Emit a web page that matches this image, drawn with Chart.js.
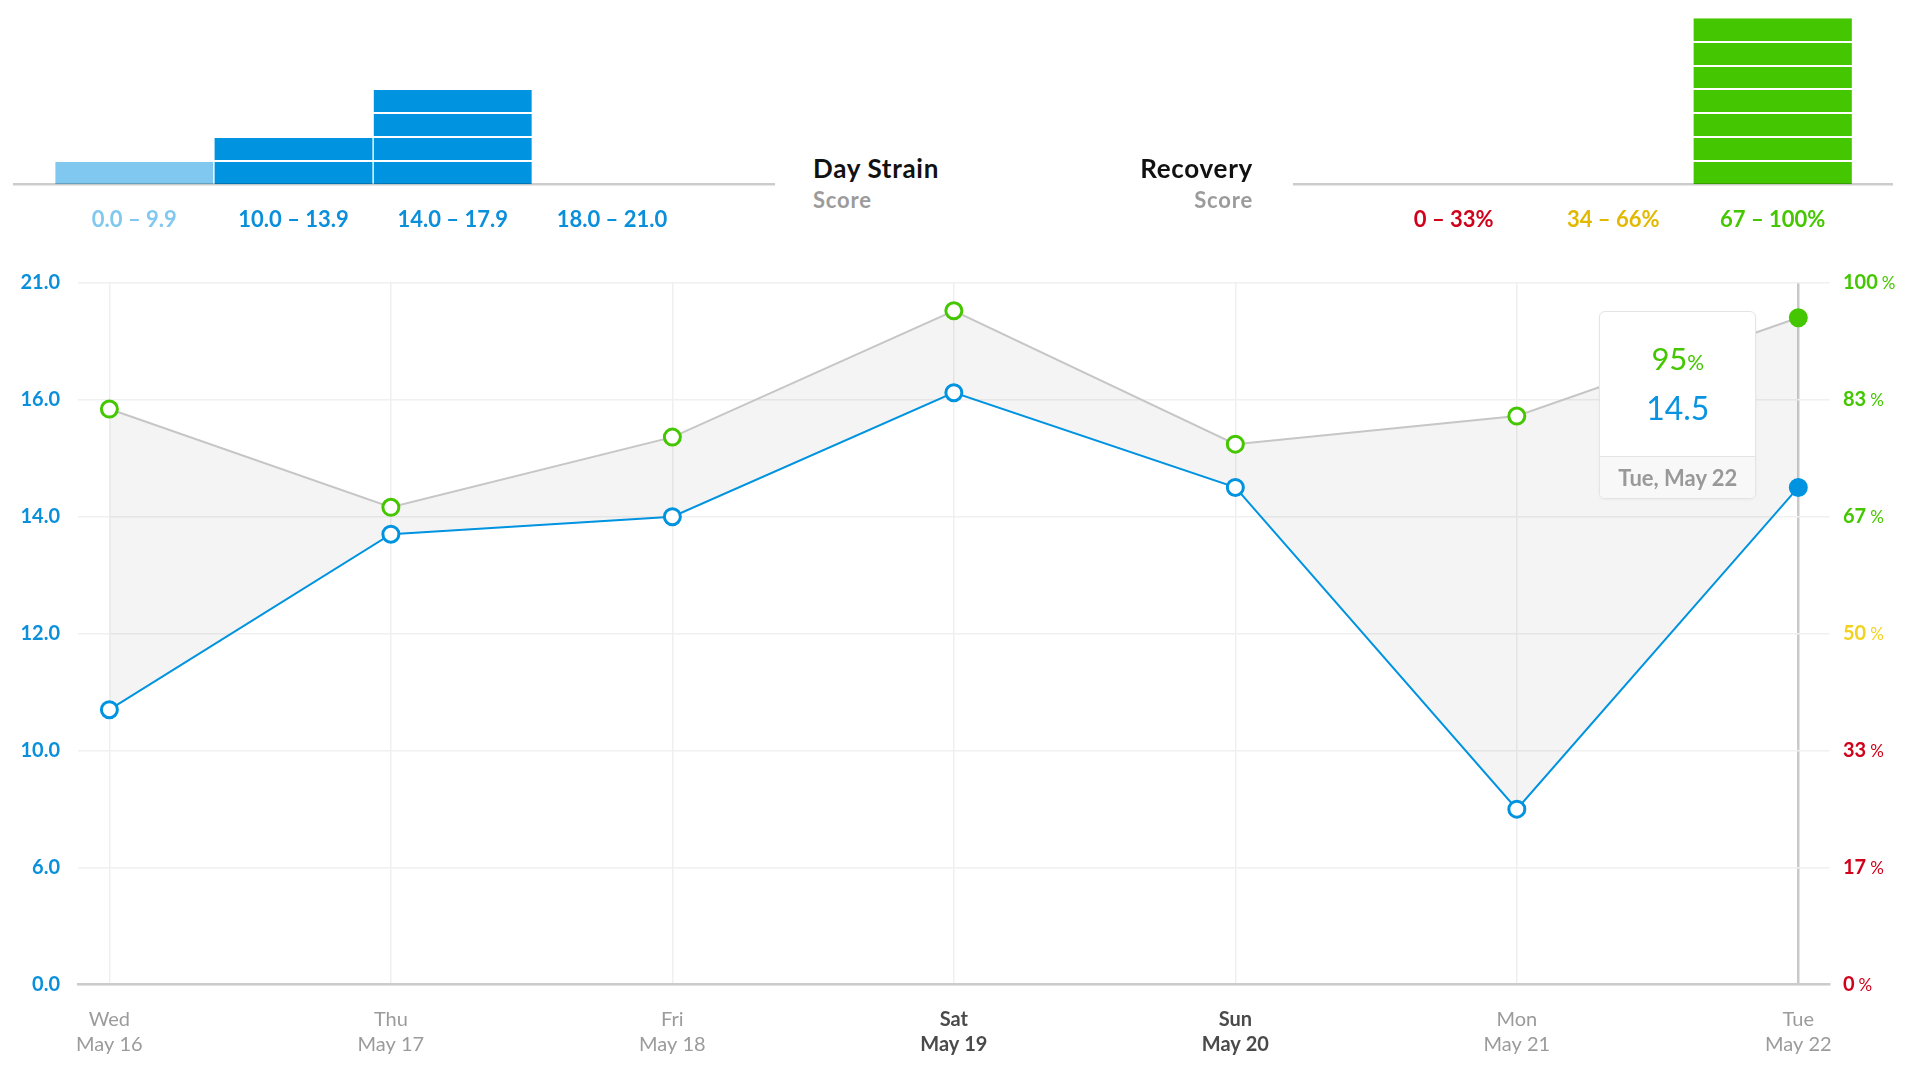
<!DOCTYPE html>
<html>
<head>
<meta charset="utf-8">
<script src="https://cdn.jsdelivr.net/npm/chart.js@4.4.1/dist/chart.umd.min.js"></script>
<style>
  html, body { margin: 0; padding: 0; background: #fff; }
  body { width: 1906px; height: 1086px; position: relative; overflow: hidden; font-family: Lato, "Noto Sans", sans-serif; }
  canvas { position: absolute; }
  .title { position: absolute; font-size: 26px; font-weight: 700; color: #111; line-height: 1; white-space: nowrap; letter-spacing: 0.7px; }
  .sub { position: absolute; font-size: 22px; font-weight: 700; color: #9b9b9b; line-height: 1; white-space: nowrap; letter-spacing: 0.8px; }
  #tip { position: absolute; width: 155px; height: 186px; border: 1.5px solid #e4e4e4; border-radius: 6px; background: #fff; overflow: hidden; box-shadow: 0 1px 3px rgba(0,0,0,0.04); }
  #tipRec { position: absolute; left: 0; right: 0; top: 31px; text-align: center; color: #44c700; font-size: 31px; line-height: 1; }
  #tipRec span { font-size: 21px; }
  #tipStr { position: absolute; left: 0; right: 0; top: 80px; text-align: center; color: #0a93e0; font-size: 32px; line-height: 1; }
  #tipDate { position: absolute; left: 0; right: 0; bottom: 0; height: 41px; border-top: 1.5px solid #e4e4e4; background: #f8f8f8; text-align: center; line-height: 41px; color: #999; font-size: 22px; font-weight: 700; }
</style>
</head>
<body>
<canvas id="strainHist" width="800" height="250" style="left:0;top:0;width:800px;height:250px"></canvas>
<canvas id="recHist" width="806" height="250" style="left:1100px;top:0;width:806px;height:250px"></canvas>
<div class="title" style="left:813px;top:155px;">Day Strain</div>
<div class="sub" style="left:813px;top:189px;">Score</div>
<div class="title" style="right:653px;top:155px;">Recovery</div>
<div class="sub" style="right:653px;top:189px;">Score</div>
<canvas id="main" width="1906" height="846" style="left:0;top:240px;width:1906px;height:846px"></canvas>
<div id="tip"><div id="tipRec"></div><div id="tipStr"></div><div id="tipDate"></div></div>
<script>
// ---------- data ----------
const dayNames = ['Wed', 'Thu', 'Fri', 'Sat', 'Sun', 'Mon', 'Tue'];
const dayDates = ['May 16', 'May 17', 'May 18', 'May 19', 'May 20', 'May 21', 'May 22'];
const strain = [10.7, 13.7, 14.0, 16.3, 14.5, 8.0, 14.5];
const recovery = [82, 68, 78, 96, 77, 81, 95];
const activeIndex = 6;

const strainTicks = [0, 6, 10, 12, 14, 16, 21];
const recoveryTickLabels = ['0', '17', '33', '50', '67', '83', '100'];
const recoveryTickColors = ['#d0021b', '#d0021b', '#d0021b', '#f2d21c', '#44c700', '#44c700', '#44c700'];

const strainBinLabels = ['0.0 \u2013 9.9', '10.0 \u2013 13.9', '14.0 \u2013 17.9', '18.0 \u2013 21.0'];
const strainBinCounts = [1, 2, 4, 0];
const strainBinColors = ['#80c8f0', '#0093e0', '#0093e0', '#0093e0'];
const strainBinLabelColors = ['#80c8f0', '#0a8fdb', '#0a8fdb', '#0a8fdb'];

const recBinLabels = ['0 \u2013 33%', '34 \u2013 66%', '67 \u2013 100%'];
const recBinCounts = [0, 0, 7];
const recBinBarColors = ['#d0021b', '#e2b900', '#44c700'];
const recBinLabelColors = ['#d0021b', '#e2b900', '#44c700'];

// ---------- style ----------
const FONT = 'Lato, "Noto Sans", sans-serif';
const BLUE = '#0093e0';
const GREEN = '#44c700';

// ---------- piecewise scale (equally spaced uneven ticks) ----------
class PiecewiseScale extends Chart.LinearScale {
  buildTicks() { return strainTicks.map(v => ({ value: v })); }
  getPixelForValue(value) {
    if (value === null || value === undefined || isNaN(value)) return NaN;
    const b = strainTicks, n = b.length - 1;
    let i = 0;
    while (i < n - 1 && value > b[i + 1]) i++;
    return this.getPixelForDecimal((i + (value - b[i]) / (b[i + 1] - b[i])) / n);
  }
  getValueForPixel(pixel) {
    const b = strainTicks, n = b.length - 1;
    const d = this.getDecimalForPixel(pixel) * n;
    const i = Math.min(n - 1, Math.max(0, Math.floor(d)));
    return b[i] + (d - i) * (b[i + 1] - b[i]);
  }
}
PiecewiseScale.id = 'piecewise';
PiecewiseScale.defaults = Chart.LinearScale.defaults;
Chart.register(PiecewiseScale);

// ---------- histograms ----------
function histogram(canvasId, labels, counts, colors, labelColors, xMin, xMax, padLeft, padRight) {
  return new Chart(document.getElementById(canvasId), {
    type: 'bar',
    data: {
      datasets: [{
        data: counts.map((c, i) => ({ x: i, y: c })),
        backgroundColor: colors,
        borderColor: '#ffffff',
        borderWidth: { left: 1, right: 1, top: 0, bottom: 0 },
        barPercentage: 1,
        categoryPercentage: 1
      }]
    },
    options: {
      responsive: false, animation: false, events: [],
      layout: { padding: { left: padLeft, right: padRight, top: 18.3, bottom: 0 } },
      plugins: { legend: { display: false }, tooltip: { enabled: false } },
      scales: {
        x: {
          type: 'linear', min: xMin, max: xMax, offset: false,
          afterBuildTicks: s => { s.ticks = labels.map((_, i) => ({ value: i })); },
          afterFit: s => { s.height = 250 - 184.3; },
          grid: { display: false, offset: false },
          border: { display: true, color: 'rgba(0,0,0,0.2)', width: 2.5, z: 2 },
          ticks: {
            autoSkip: false, maxRotation: 0, padding: 14,
            callback: (v, i) => labels[i],
            color: ctx => labelColors[ctx.index],
            font: { family: FONT, size: 22, weight: '700' }
          }
        },
        y: {
          min: 0, max: 7,
          afterBuildTicks: s => { s.ticks = [1, 2, 3, 4, 5, 6].map(v => ({ value: v })); },
          afterFit: s => { s.width = 0; },
          ticks: { display: false },
          border: { display: false },
          grid: { color: '#ffffff', lineWidth: 2, z: 1, drawTicks: false }
        }
      }
    }
  });
}
histogram('strainHist', strainBinLabels, strainBinCounts, strainBinColors, strainBinLabelColors, -0.752, 4.018, 14.6, 26);
histogram('recHist', recBinLabels, recBinCounts, recBinBarColors, recBinLabelColors, -0.997, 2.752, 194.6, 13.3);

// ---------- main chart ----------
const rightLabels = {
  id: 'rightLabels',
  afterDraw(chart) {
    const s = chart.scales.yRec, ctx = chart.ctx;
    s.ticks.forEach((t, i) => {
      const y = s.getPixelForValue(t.value);
      const x = s.left + 13.5;
      ctx.save();
      ctx.textBaseline = 'middle';
      ctx.textAlign = 'left';
      ctx.fillStyle = recoveryTickColors[i];
      ctx.font = '700 20px ' + FONT;
      ctx.fillText(recoveryTickLabels[i], x, y);
      const w = ctx.measureText(recoveryTickLabels[i]).width;
      ctx.font = '400 17px ' + FONT;
      ctx.fillText('%', x + w + 4, y + 1);
      ctx.restore();
    });
  }
};

const isWeekend = i => dayNames[i] === 'Sat' || dayNames[i] === 'Sun';

const mainChart = new Chart(document.getElementById('main'), {
  type: 'line',
  data: {
    datasets: [
      {
        label: 'Recovery',
        yAxisID: 'yRec',
        data: recovery.map((v, i) => ({ x: i, y: v })),
        borderColor: '#c6c6c6',
        borderWidth: 2,
        pointRadius: 8,
        pointBorderWidth: 3,
        pointBorderColor: GREEN,
        pointBackgroundColor: ctx => ctx.dataIndex === activeIndex ? GREEN : '#ffffff',
        tension: 0,
        fill: false
      },
      {
        label: 'Day Strain',
        yAxisID: 'y',
        data: strain.map((v, i) => ({ x: i, y: v })),
        borderColor: BLUE,
        borderWidth: 2,
        pointRadius: 8,
        pointBorderWidth: 3,
        pointBorderColor: BLUE,
        pointBackgroundColor: ctx => ctx.dataIndex === activeIndex ? BLUE : '#ffffff',
        tension: 0,
        fill: '-1',
        backgroundColor: 'rgba(0,0,0,0.045)'
      }
    ]
  },
  options: {
    responsive: false, animation: false, events: [],
    layout: { padding: { top: 42.7, left: 0, right: 0, bottom: 0 } },
    plugins: { legend: { display: false }, tooltip: { enabled: false } },
    scales: {
      x: {
        type: 'linear', position: 'bottom', min: -0.1115, max: 6.1108,
        afterBuildTicks: s => { s.ticks = dayNames.map((_, i) => ({ value: i })); },
        afterFit: s => { s.height = 846 - 744.6; },
        grid: {
          drawTicks: false,
          color: ctx => ctx.index === activeIndex ? '#c9c9c9' : '#efefef',
          lineWidth: ctx => ctx.index === activeIndex ? 2.5 : 1.5
        },
        border: { display: true, color: '#cccccc', width: 2.5 },
        ticks: {
          autoSkip: false, maxRotation: 0, padding: 22,
          callback: (v, i) => [dayNames[i], dayDates[i]],
          color: ctx => isWeekend(ctx.index) ? '#4a4a4a' : '#9b9b9b',
          font: ctx => ({ family: FONT, size: 20, weight: isWeekend(ctx.index) ? '700' : '400', lineHeight: 1.25 })
        }
      },
      y: {
        type: 'piecewise', position: 'left', min: 0, max: 21,
        afterFit: s => { s.width = 78; },
        grid: { color: '#f0f0f0', lineWidth: 1.5, drawTicks: false },
        border: { display: false },
        ticks: {
          padding: 18,
          callback: v => v.toFixed(1),
          color: '#0a8fdb',
          font: { family: FONT, size: 20, weight: '700' }
        }
      },
      yRec: {
        type: 'linear', position: 'right', min: 0, max: 100,
        afterBuildTicks: s => { s.ticks = recoveryTickLabels.map((_, i) => ({ value: i * 100 / (recoveryTickLabels.length - 1) })); },
        afterFit: s => { s.width = 1906 - 1829.5; },
        grid: { display: false },
        border: { display: false },
        ticks: { display: false }
      }
    }
  },
  plugins: [rightLabels]
});

// ---------- tooltip box for the active day ----------
const tip = document.getElementById('tip');
document.getElementById('tipRec').innerHTML = recovery[activeIndex] + '<span>%</span>';
document.getElementById('tipStr').textContent = strain[activeIndex].toFixed(1);
document.getElementById('tipDate').textContent = dayNames[activeIndex] + ', ' + dayDates[activeIndex];
const ax = mainChart.scales.x.getPixelForValue(activeIndex);
tip.style.left = (ax - 41.6 - 157.4) + 'px';
tip.style.top = '310.7px';
</script>
</body>
</html>
